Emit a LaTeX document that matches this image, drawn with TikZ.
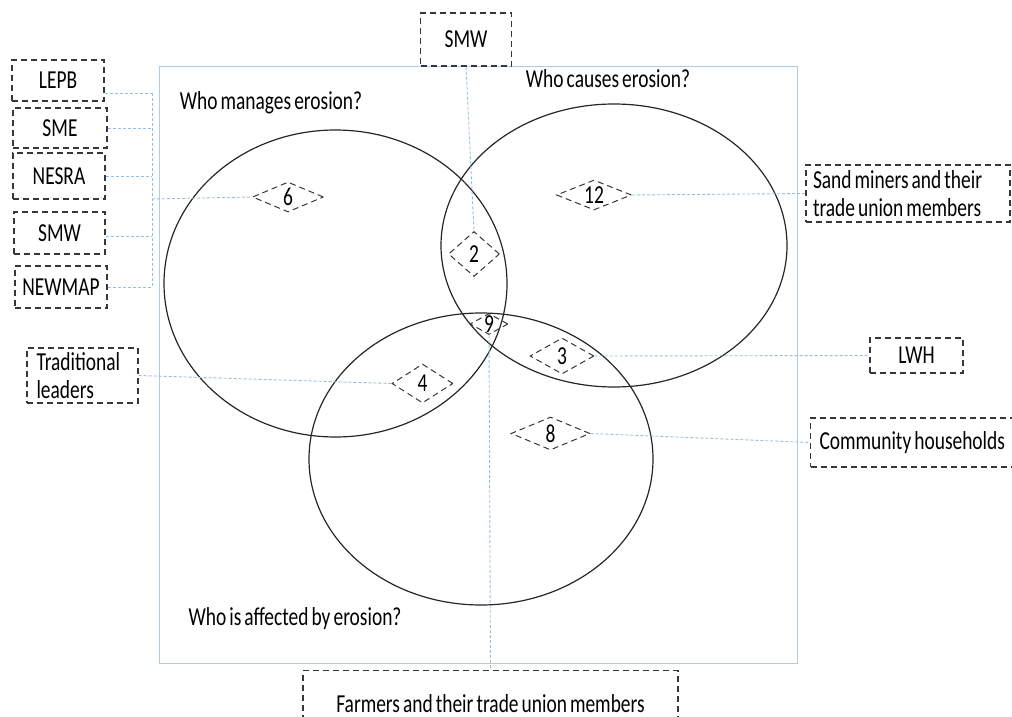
\documentclass[tikz,border=0pt]{standalone}
\usepackage{fontspec}
\setmainfont{Carlito}[FakeStretch=0.75, WordSpace=0.7]
\usetikzlibrary{shapes.geometric}

\definecolor{linkblue}{RGB}{150,190,228}
\definecolor{frameblue}{RGB}{170,205,235}
\definecolor{framegray}{RGB}{55,55,55}

\begin{document}
\begin{tikzpicture}[x=1bp,y=-1bp,
  every node/.style={font=\fontsize{26}{28.3}\selectfont},
  tag/.style={draw=framegray, dash pattern=on 6bp off 4bp, line width=1.2bp, inner sep=0pt},
  lefttag/.style={tag, align=flush left, text width=#1},
  dia/.style={shape=diamond, draw=framegray, dash pattern=on 6bp off 4bp, line width=1bp, inner sep=0pt},
  link/.style={draw=linkblue, dash pattern=on 3bp off 2bp, line width=0.9bp},
  ring/.style={draw=black!85, line width=1.2bp},
  question/.style={inner sep=0pt},
]
\useasboundingbox (0,0) rectangle (1012,717);

% outer frame
\draw[frameblue, line width=1bp] (159,67) rectangle (797,663);

% the three sets
\draw[ring] (335.5,283.5) ellipse [x radius=171.5, y radius=153.5];
\draw[ring] (614,245.5) ellipse [x radius=173, y radius=141.5];
\draw[ring] (481,459) ellipse [x radius=172, y radius=146];

% set titles
\node[question] (qmanage) at (271,103) {Who manages erosion?};
\node[question] (qcause) at (608,79) {Who causes erosion?};
\node[question] (qaffect) at (295,619) {Who is affected by erosion?};

% region markers
\node[dia, minimum width=71bp, minimum height=30bp] (d6) at (288,197) {};
\node[dia, minimum width=75bp, minimum height=30bp] (d12) at (594,195) {};
\node[dia, minimum width=51bp, minimum height=45bp] (d2) at (474,254) {};
\node[dia, minimum width=38bp, minimum height=21bp] (d9) at (489,324) {};
\node[dia, minimum width=64bp, minimum height=36bp] (d3) at (562,356) {};
\node[dia, minimum width=61bp, minimum height=39bp] (d4) at (422.5,383.5) {};
\node[dia, minimum width=79bp, minimum height=33bp] (d8) at (550.5,433.5) {};
\node[inner sep=0pt] at (d6) {6};
\node[inner sep=0pt] at (d12) {12};
\node[inner sep=0pt] at (d2) {2};
\node[inner sep=0pt] at (d9) {9};
\node[inner sep=0pt] at (d3) {3};
\node[inner sep=0pt] at (d4) {4};
\node[inner sep=0pt] at (d8) {8};

% actor boxes, left column
\node[tag, minimum width=92bp, minimum height=41bp] (lepb) at (58,80.5) {LEPB};
\node[tag, minimum width=94bp, minimum height=40bp] (sme) at (60,128) {SME};
\node[tag, minimum width=92bp, minimum height=46bp] (nesra) at (59,176) {NESRA};
\node[tag, minimum width=91bp, minimum height=42bp] (smwl) at (59.5,233) {SMW};
\node[tag, minimum width=92bp, minimum height=42bp] (newmap) at (61,287) {NEWMAP};
\node[lefttag=92bp, minimum height=55bp, inner xsep=9.5bp] (trad) at (82.5,375.5) {Traditional\\leaders};

% actor boxes, top, right and bottom
\node[tag, minimum width=91bp, minimum height=53bp] (smwt) at (466,39.5) {SMW};
\node[lefttag=190bp, minimum height=57bp, inner xsep=7bp] (sand) at (908,193.5) {Sand miners and their\\trade union members};
\node[tag, minimum width=93bp, minimum height=35bp] (lwh) at (916.5,355.5) {LWH};
\node[lefttag=200bp, minimum height=49bp, inner xsep=9bp] (comm) at (919.5,442.5) {Community households};
\node[tag, minimum width=375bp, minimum height=66bp, anchor=north] (farm) at (490.5,670) {Farmers and their trade union members};

% connectors from the left column to region 6
\coordinate (bus) at (152,199);
\draw[link] ([yshift=-12.5bp]lepb.east) -- ([yshift=-12.5bp]lepb.east -| bus);
\draw[link] (sme.east) -- (sme.east -| bus);
\draw[link] (nesra.east) -- (nesra.east -| bus);
\draw[link] ([yshift=-3bp]smwl.east) -- ([yshift=-3bp]smwl.east -| bus);
\draw[link] (newmap.east) -- (newmap.east -| bus);
\draw[link] ([yshift=-12.5bp]lepb.east -| bus) -- (newmap.east -| bus);
\draw[link] (bus) -- (d6.west);

% other connectors
\draw[link] (trad.east) -- (d4.west);
\draw[link] (smwt.south) -- (d2.north);
\draw[link] (d12.east) -- (sand.west);
\draw[link] (d3.east) -- (lwh.west);
\draw[link] (d8.east) -- (comm.west);
\draw[link] (d9.south) -- (farm.north);
\end{tikzpicture}
\end{document}
